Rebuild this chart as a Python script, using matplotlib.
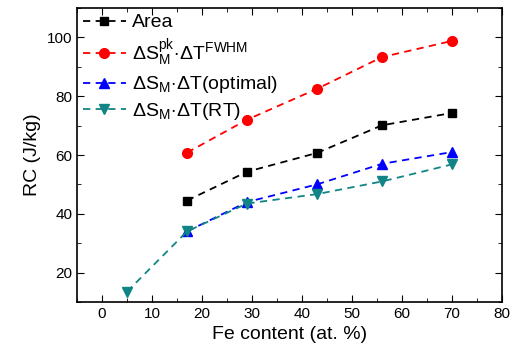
import numpy as np
import matplotlib
matplotlib.use("Agg")
import matplotlib.pyplot as plt
from matplotlib.ticker import MultipleLocator

plt.rcParams['font.family'] = ['Liberation Sans', 'DejaVu Sans']
plt.rcParams['mathtext.fontset'] = 'custom'
plt.rcParams['mathtext.rm'] = 'Liberation Sans'
plt.rcParams['mathtext.it'] = 'Liberation Sans'
plt.rcParams['mathtext.sf'] = 'Liberation Sans'

# data
fe = [17, 29, 43, 56, 70]
area = [44.5, 54.3, 60.7, 70.1, 74.3]
sfwhm = [60.8, 72.0, 82.5, 93.3, 98.8]
optimal = [34.0, 44.0, 50.0, 57.0, 61.0]
fe_rt = [5, 17, 29, 43, 56, 70]
rt = [13.5, 34.0, 43.5, 46.7, 51.0, 56.8]

labels = ['Area',
          r'$\Delta\mathrm{S}_\mathrm{M}^\mathrm{pk}\!\cdot\!\Delta\mathrm{T}^\mathrm{FWHM}$',
          r'$\Delta\mathrm{S}_\mathrm{M}\!\cdot\!\Delta\mathrm{T}$(optimal)',
          r'$\Delta\mathrm{S}_\mathrm{M}\!\cdot\!\Delta\mathrm{T}$(RT)']

fig = plt.figure(figsize=(5.15, 3.58), dpi=100)
ax = fig.add_axes([77/515, 1 - 302/358, (502-77)/515, (302-8)/358])

dash = (0, (4, 3))
ax.plot(fe, area, color='black', ls=dash, lw=1.3, marker='s', ms=6, label=labels[0])
ax.plot(fe, sfwhm, color='red', ls=dash, lw=1.3, marker='o', ms=7, label=labels[1])
ax.plot(fe, optimal, color='blue', ls=dash, lw=1.3, marker='^', ms=7, label=labels[2])
ax.plot(fe_rt, rt, color='#118585', ls=dash, lw=1.3, marker='v', ms=7, label=labels[3])

ax.set_xlim(-5, 80)
ax.set_ylim(10, 110)
ax.xaxis.set_major_locator(MultipleLocator(10))
ax.xaxis.set_minor_locator(MultipleLocator(5))
ax.yaxis.set_major_locator(MultipleLocator(20))
ax.yaxis.set_minor_locator(MultipleLocator(10))
ax.tick_params(which='both', direction='in', top=True, right=True, labelsize=11)
ax.tick_params(which='major', length=5)
ax.tick_params(which='minor', length=3)
for s in ax.spines.values():
    s.set_linewidth(1.2)

ax.set_xlabel('Fe content (at. %)', fontsize=14)
ax.set_ylabel('RC (J/kg)', fontsize=14)

ax.legend(loc='upper left', frameon=False, fontsize=14, handlelength=2.2,
          handletextpad=0.35, labelspacing=0.3, borderaxespad=0.1,
          borderpad=0.2)

fig.savefig('out.png', dpi=100)
